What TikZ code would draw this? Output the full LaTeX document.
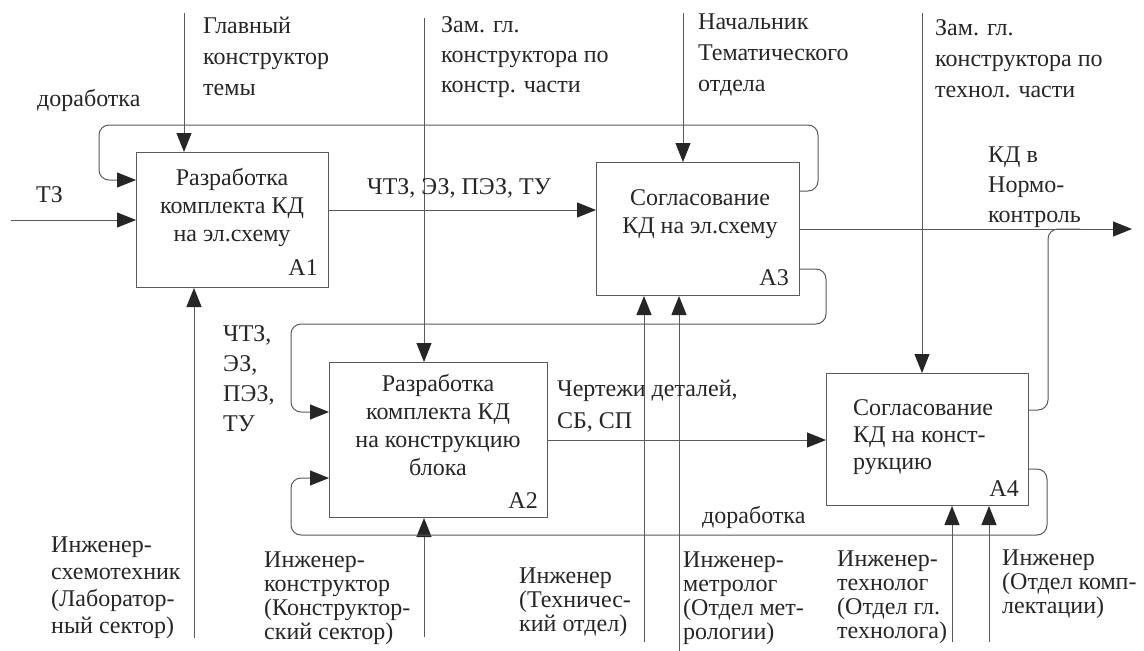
\documentclass[tikz,border=0pt]{standalone}
\usepackage{fontspec}
\setmainfont{Liberation Serif}
\usetikzlibrary{arrows.meta}
\definecolor{ln}{HTML}{5A5A5A}
\definecolor{tx}{HTML}{262626}
\begin{document}
\begin{tikzpicture}[x=1pt,y=-1pt,
  box/.style={draw=ln, line width=1pt, inner sep=0pt, anchor=north west},
  flow/.style={draw=ln, line width=1pt, -{Triangle[length=19pt,width=15pt,color=tx]}},
  plain/.style={draw=ln, line width=1pt},
  lab/.style={text=tx, font=\fontsize{24}{#1}\selectfont, align=left, anchor=west, inner sep=0pt},
  lab/.default=28,
  ctr/.style={text=tx, font=\fontsize{24}{28}\selectfont, align=center, inner sep=0pt},
  num/.style={text=tx, font=\fontsize{24}{28}\selectfont, anchor=east, inner sep=0pt}
]
\useasboundingbox (0,0) rectangle (1144,651);
\fill[white] (0,0) rectangle (1144,651);

% boxes
\node[box, minimum width=192pt, minimum height=135pt] (A1) at (136,152) {};
\node[box, minimum width=203pt, minimum height=133pt] (A3) at (596,162) {};
\node[box, minimum width=218pt, minimum height=155pt] (A2) at (329,362) {};
\node[box, minimum width=202pt, minimum height=132pt] (A4) at (826,373) {};

\node[ctr] (t1) at (232,207) {Разработка\\комплекта КД\\на эл.схему};
\node[ctr] (t3) at (700,214) {Согласование\\КД на эл.схему};
\node[ctr] (t2) at (438,425) {Разработка\\комплекта КД\\на конструкцию\\блока};
\node[lab=27] (t4) at (853,437) {Согласование\\КД на конст-\\рукцию};

\node[num] (n1) at (318,268) {A1};
\node[num] (n3) at (789,278) {A3};
\node[num] (n2) at (538,501) {A2};
\node[num] (n4) at (1019,489) {A4};

% free ends and helper coordinates
\coordinate (inTZ) at (11,220);
\coordinate (c1) at (184,13);
\coordinate (m1) at (194,638);
\coordinate (c2) at (424,18);
\coordinate (m2) at (424,637);
\coordinate (c3) at (683,13);
\coordinate (m3a) at (644,642);
\coordinate (m3b) at (679,651);
\coordinate (c4) at (922,13);
\coordinate (m4a) at (952,642);
\coordinate (m4b) at (989,642);
\coordinate (out) at (1132,229);
\coordinate (y210) at (0,210);
\coordinate (y191) at (0,191);
\coordinate (y180) at (0,180);
\coordinate (y269) at (0,269);
\coordinate (y412) at (0,412);
\coordinate (y440) at (0,440);
\coordinate (y410) at (0,410);
\coordinate (y469) at (0,469);
\coordinate (y478) at (0,478);

% connectors
\draw[flow] (inTZ) -- (inTZ -| A1.west);
\draw[flow] (c1) -- (c1 |- A1.north);
\draw[flow] (m1) -- (m1 |- A1.south);
\draw[flow] (A1.east |- y210) -- (A3.west |- y210);
\draw[flow, rounded corners=10pt] (A3.east |- y191) -- (818,191) -- (818,125) -- (99,125) -- (99,180) -- (A1.west |- y180);
\draw[flow] (c3) -- (c3 |- A3.north);
\draw[flow] (A3.east |- out) -- (out);
\draw[flow, rounded corners=10pt] (A3.east |- y269) -- (826,269) -- (826,324) -- (291,324) -- (291,412) -- (A2.west |- y412);
\draw[flow] (c2) -- (c2 |- A2.north);
\draw[flow] (m2) -- (m2 |- A2.south);
\draw[flow] (m3a) -- (m3a |- A3.south);
\draw[flow] (m3b) -- (m3b |- A3.south);
\draw[flow] (A2.east |- y440) -- (A4.west |- y440);
\draw[flow] (c4) -- (c4 |- A4.north);
\draw[flow] (m4a) -- (m4a |- A4.south);
\draw[flow] (m4b) -- (m4b |- A4.south);
\draw[plain, rounded corners=10pt] (A4.east |- y410) -- (1048,410) -- (1048,229) -- (1080,229);
\draw[flow, rounded corners=10pt] (A4.east |- y469) -- (1047,469) -- (1047,535) -- (291,535) -- (291,478) -- (A2.west |- y478);

% labels
\node[lab=31] (l1) at (203,56) {Главный\\конструктор\\темы};
\node[lab=30] (l2) at (441,57.5) {Зам. гл.\\конструктора по\\констр. части};
\node[lab=31] (l3) at (698,54.5) {Начальник\\Тематического\\отдела};
\node[lab=31] (l4) at (935,59) {Зам. гл.\\конструктора по\\технол. части};
\node[lab] (l5) at (37,100) {доработка};
\node[lab] (l6) at (36,195) {ТЗ};
\node[lab] (l7) at (367,188) {ЧТЗ, ЭЗ, ПЭЗ, ТУ};
\node[lab=30] (l8) at (988,187.5) {КД в\\Нормо-\\контроль};
\node[lab=30] (l9) at (223,379) {ЧТЗ,\\ЭЗ,\\ПЭЗ,\\ТУ};
\node[lab=32] (l10) at (557,406) {Чертежи деталей,\\СБ, СП};
\node[lab] (l11) at (702,517) {доработка};
\node[lab=27] (l12) at (51,587.5) {Инженер-\\схемотехник\\(Лаборатор-\\ный сектор)};
\node[lab=24] (l13) at (264,598) {Инженер-\\конструктор\\(Конструктор-\\ский сектор)};
\node[lab=24] (l14) at (519,602.5) {Инженер\\(Техничес-\\кий отдел)};
\node[lab=24] (l15) at (683,598) {Инженер-\\метролог\\(Отдел мет-\\рологии)};
\node[lab=24] (l16) at (837,597) {Инженер-\\технолог\\(Отдел гл.\\технолога)};
\node[lab=24] (l17) at (1002,584) {Инженер\\(Отдел комп-\\лектации)};
\end{tikzpicture}
\end{document}
